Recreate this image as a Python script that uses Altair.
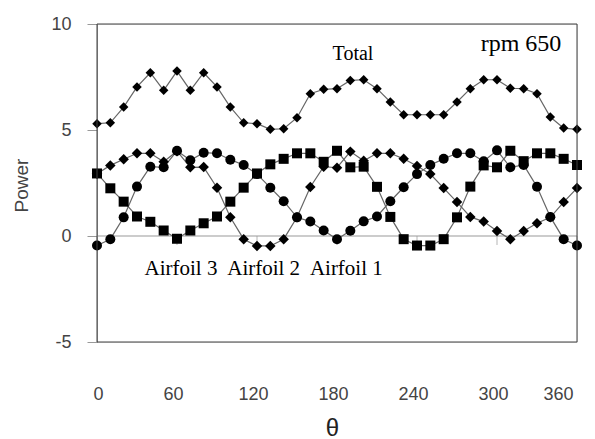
import altair as alt
import pandas as pd

# ---- data ----
theta = [0, 10, 20, 30, 40, 50, 60, 70, 80, 90, 100, 110, 120, 130, 140, 150, 160, 170, 180,
         190, 200, 210, 220, 230, 240, 250, 260, 270, 280, 290, 300, 310, 320, 330, 340, 350, 360]

total = [5.30, 5.34, 6.08, 7.03, 7.70, 6.87, 7.78, 6.87, 7.70, 7.03, 6.08, 5.34, 5.30, 5.03, 5.06,
         5.58, 6.71, 6.92, 6.95, 7.34, 7.37, 6.95, 6.32, 5.72, 5.72, 5.72, 5.72, 6.32, 6.95, 7.37,
         7.37, 6.97, 6.95, 6.71, 5.61, 5.09, 5.03]

airfoil1 = [-0.45, -0.15, 0.88, 2.33, 3.27, 3.24, 4.02, 3.57, 3.93, 3.90, 3.60, 3.35, 2.92, 2.28,
            1.64, 0.88, 0.68, 0.26, -0.15, 0.25, 0.69, 0.92, 1.64, 2.30, 2.92, 3.35, 3.64, 3.90,
            3.90, 3.53, 4.04, 3.24, 3.35, 2.32, 0.90, -0.15, -0.45]

airfoil2 = [2.94, 3.33, 3.62, 3.90, 3.90, 3.50, 4.00, 3.24, 3.25, 2.28, 0.88, -0.15, -0.47, -0.47,
            -0.15, 0.88, 2.31, 3.27, 3.22, 3.98, 3.55, 3.90, 3.90, 3.64, 3.30, 2.92, 2.26, 1.60,
            0.90, 0.68, 0.24, -0.15, 0.24, 0.60, 0.88, 1.60, 2.26]

airfoil3 = [2.95, 2.25, 1.62, 0.92, 0.67, 0.26, -0.13, 0.26, 0.60, 0.92, 1.62, 2.28, 2.95, 3.38,
            3.64, 3.90, 3.90, 3.50, 4.02, 3.24, 3.27, 2.32, 0.90, -0.15, -0.45, -0.45, -0.15, 0.88,
            2.33, 3.33, 3.24, 4.02, 3.53, 3.90, 3.90, 3.64, 3.35]

series_names = ["Total", "Airfoil 1", "Airfoil 2", "Airfoil 3"]
series_values = [total, airfoil1, airfoil2, airfoil3]
series_shapes = ["diamond", "circle", "diamond", "square"]
series_sizes = [90, 100, 110, 100]

x_ticks = [0, 60, 120, 180, 240, 300, 360]
y_ticks = [-5, 0, 5, 10]

annot_text = ["Total", "rpm 650", "Airfoil 3", "Airfoil 2", "Airfoil 1"]
annot_theta = [192, 318, 63, 125, 187]
annot_power = [8.6, 9.05, -1.55, -1.55, -1.55]
annot_size = [20, 24, 21, 21, 21]

# ---- build tables ----
rows = []
for name, vals, sz in zip(series_names, series_values, series_sizes):
    for t, v in zip(theta, vals):
        rows.append({"theta": t, "power": v, "series": name, "msize": sz})
df = pd.DataFrame(rows)

ann = pd.DataFrame({"text": annot_text, "theta": annot_theta, "power": annot_power, "size": annot_size})
zero_df = pd.DataFrame({"power": [0]})
tick_df = pd.DataFrame({"theta": x_ticks, "power": [0] * len(x_ticks)})

x_scale = alt.Scale(domain=[0, 360], nice=False, zero=False)
y_scale = alt.Scale(domain=[-5, 10], nice=False)

SANS = "Liberation Sans"
SERIF = "Liberation Serif"

x_axis = alt.Axis(values=x_ticks, title="θ", grid=False, domain=False, ticks=False, tickSize=0,
                  labelPadding=43, labelOffset=-4, labelFont=SANS, labelFontSize=18,
                  labelColor="#444444",
                  titleFont=SANS, titleFontSize=24, titleFontWeight="normal",
                  titleColor="#222222", titleX=235, titleY=86, titleBaseline="middle")
y_axis = alt.Axis(values=y_ticks, title="Power", grid=False, domainColor="#999999",
                  tickColor="#999999", tickSize=10, labelPadding=16, labelFont=SANS,
                  labelFontSize=18, labelColor="#444444", labelExpr="'' + datum.value",
                  titleFont=SANS, titleFontSize=19,
                  titleFontWeight="normal", titleColor="#444444", titleX=-76, titleY=161,
                  titleAngle=-90, titleAlign="center", titleBaseline="middle")

base = alt.Chart(df)

border = alt.Chart(zero_df).mark_rect(fillOpacity=0, stroke="#404040", strokeWidth=1).encode(
    x=alt.value(0), x2=alt.value(480), y=alt.value(0), y2=alt.value(318)
)
zero_line = alt.Chart(zero_df).mark_rule(color="#999999", strokeWidth=1).encode(
    y=alt.Y("power:Q", scale=y_scale, axis=y_axis)
)
zero_ticks = alt.Chart(tick_df).mark_tick(orient="vertical", size=9, thickness=1,
                                          color="#999999", yOffset=4.5).encode(
    x=alt.X("theta:Q", scale=x_scale, axis=x_axis),
    y=alt.Y("power:Q", scale=y_scale),
)

lines = base.mark_line(color="#666666", strokeWidth=1.2).encode(
    x=alt.X("theta:Q", scale=x_scale, axis=x_axis),
    y=alt.Y("power:Q", scale=y_scale, axis=y_axis),
    detail="series:N",
)
points = base.mark_point(filled=True, color="black", opacity=1).encode(
    x=alt.X("theta:Q", scale=x_scale),
    y=alt.Y("power:Q", scale=y_scale),
    shape=alt.Shape("series:N", scale=alt.Scale(domain=series_names, range=series_shapes),
                    legend=None),
    size=alt.Size("msize:Q", scale=None, legend=None),
)
labels = alt.Chart(ann).mark_text(font=SERIF, color="black", baseline="middle",
                                  align="center").encode(
    x=alt.X("theta:Q", scale=x_scale),
    y=alt.Y("power:Q", scale=y_scale),
    text="text:N",
    size=alt.Size("size:Q", scale=None, legend=None),
)

chart = alt.layer(zero_line, zero_ticks, lines, points, labels, border).properties(
    width=480, height=318,
    padding={"left": 97, "top": 24, "right": 18, "bottom": 97},
    autosize=alt.AutoSizeParams(type="none"),
).configure_view(stroke=None).configure(background="white")

chart.save("out.html", embed_options={"renderer": "svg", "actions": False})
